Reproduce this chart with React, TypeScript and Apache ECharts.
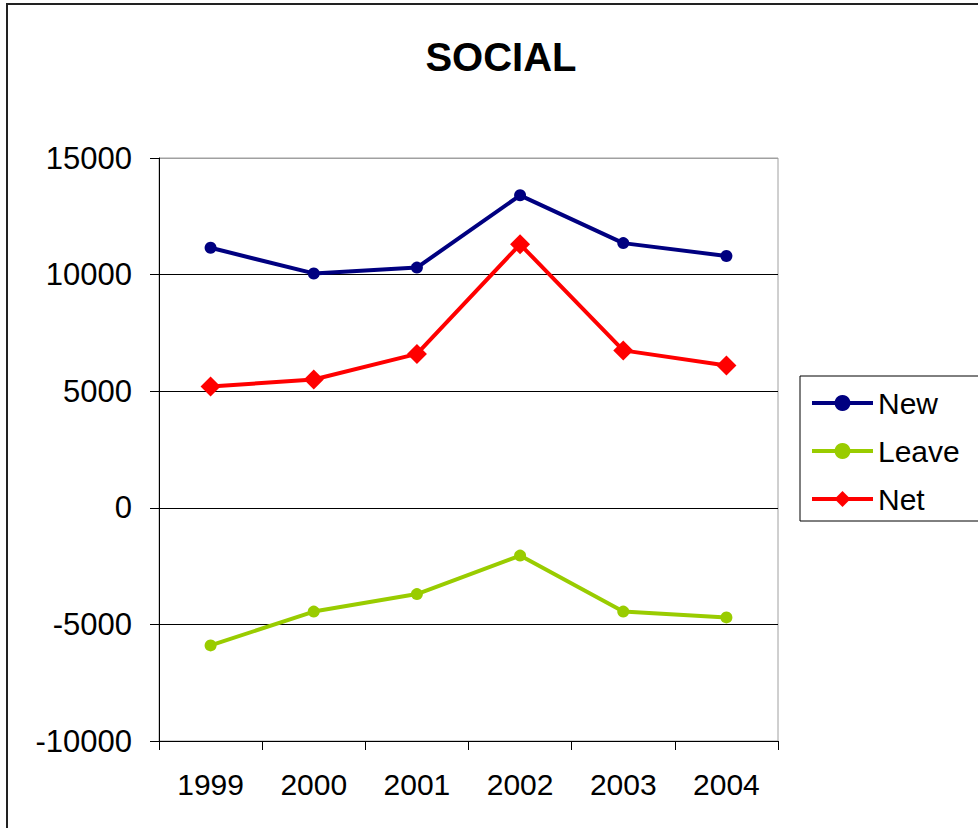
import React, { useEffect, useRef } from "react";
import * as echarts from "echarts";

const years = ["1999", "2000", "2001", "2002", "2003", "2004"];
const newValues = [11150, 10050, 10300, 13400, 11350, 10800];
const leaveValues = [-5900, -4450, -3700, -2050, -4450, -4700];
const netValues = [5200, 5500, 6600, 11300, 6750, 6100];

export default function App() {
  const ref = useRef<HTMLDivElement>(null);
  useEffect(() => {
    if (!ref.current) return;
    const chart = echarts.init(ref.current, null, { renderer: "svg" });
    const font = "'Liberation Sans', Arial, sans-serif";
    chart.setOption({
      animation: false,
      backgroundColor: "#fff",
      title: {
        text: "SOCIAL",
        left: 496,
        top: 32,
        textAlign: "center",
        textStyle: { fontFamily: font, fontSize: 40, fontWeight: "bold", color: "#000" },
      },
      graphic: [
        {
          type: "rect",
          shape: { x: 7, y: 4, width: 1100, height: 1000 },
          style: { fill: "none", stroke: "#222", lineWidth: 2 },
          silent: true,
        },
      ],
      legend: {
        left: 800,
        top: 376,
        orient: "vertical",
        borderColor: "#000",
        borderWidth: 1,
        padding: [10, 30, 5, 10],
        itemWidth: 61,
        itemHeight: 20,
        itemGap: 14,
        lineStyle: { width: 4 },
        textStyle: { fontFamily: font, fontSize: 30, color: "#000", lineHeight: 34 },
        data: ["New", "Leave", "Net"],
      },
      grid: {
        left: 159,
        top: 158,
        right: 200,
        bottom: 87,
        show: true,
        borderColor: "#a0a0a0",
        borderWidth: 1,
        containLabel: false,
      },
      xAxis: {
        type: "category",
        data: years,
        boundaryGap: true,
        axisLine: { show: true, onZero: false, lineStyle: { color: "#000", width: 1 } },
        axisTick: { show: true, inside: false, length: 9, interval: 0, lineStyle: { color: "#000" } },
        axisLabel: { fontFamily: font, fontSize: 30, color: "#000", margin: 28 },
        splitLine: { show: false },
      },
      yAxis: {
        type: "value",
        min: -10000,
        max: 15000,
        interval: 5000,
        axisLine: { show: true, lineStyle: { color: "#000", width: 1 } },
        axisTick: { show: true, inside: false, length: 9, lineStyle: { color: "#000" } },
        axisLabel: {
          fontFamily: font,
          fontSize: 31,
          color: "#000",
          margin: 27,
          formatter: (v: number) => String(v),
        },
        splitLine: {
          show: true,
          lineStyle: { color: ["#000", "#000", "#000", "#000", "#000", "#a0a0a0"], width: 1 },
        },
      },
      series: [
        {
          name: "New",
          type: "line",
          data: newValues,
          symbol: "circle",
          symbolSize: 12,
          lineStyle: { color: "#000080", width: 4 },
          itemStyle: { color: "#000080" },
        },
        {
          name: "Leave",
          type: "line",
          data: leaveValues,
          symbol: "circle",
          symbolSize: 12,
          lineStyle: { color: "#99CC00", width: 4 },
          itemStyle: { color: "#99CC00" },
        },
        {
          name: "Net",
          type: "line",
          data: netValues,
          symbol: "diamond",
          symbolSize: 20,
          lineStyle: { color: "#FF0000", width: 4 },
          itemStyle: { color: "#FF0000" },
        },
      ],
    });
    return () => chart.dispose();
  }, []);
  return (
    <div
      ref={ref}
      style={{ position: "absolute", left: 0, top: 0, width: 978, height: 828 }}
    />
  );
}
